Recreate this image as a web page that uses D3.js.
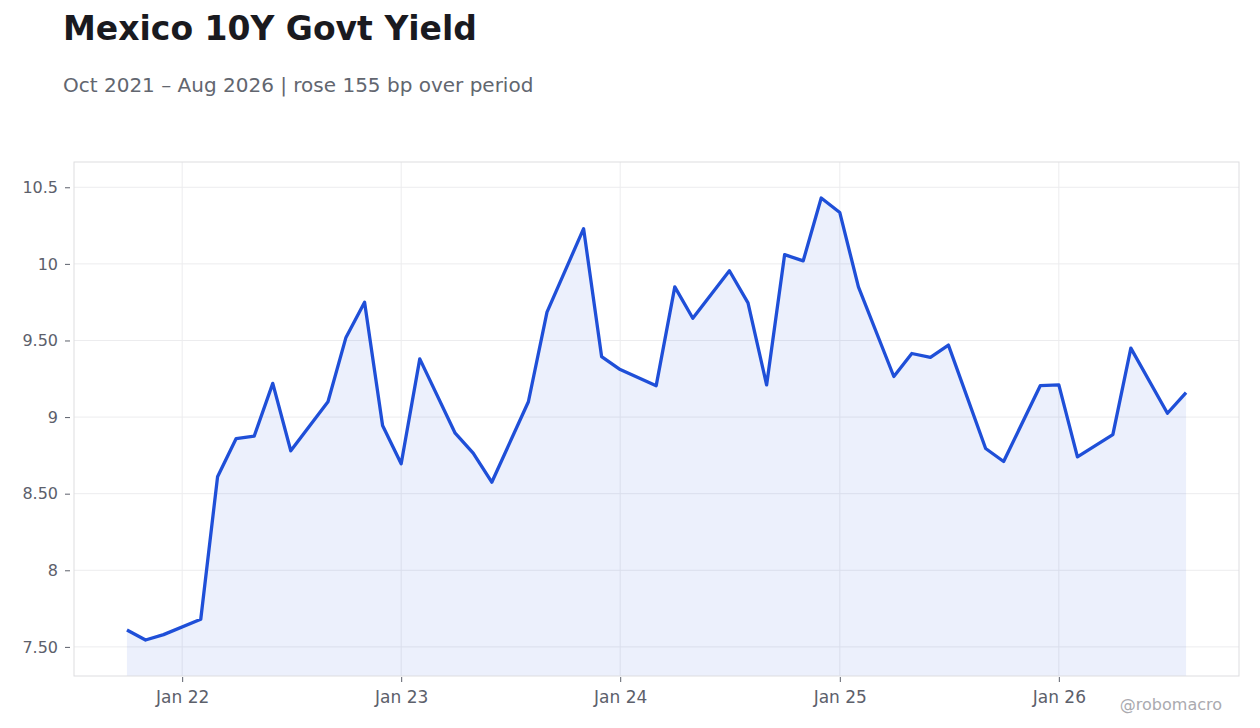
<!DOCTYPE html>
<html>
<head>
<meta charset="utf-8">
<script src="https://cdn.jsdelivr.net/npm/d3@7"></script>
<style>
  body { margin: 0; background: #fff; }
  svg { font-family: "DejaVu Sans", sans-serif; }
</style>
</head>
<body>
<div id="chart"></div>
<script>
// monthly observations (first of month), gaps where a month is missing
const dates = [
    "2021-10", "2021-11", "2021-12", "2022-02", "2022-03", "2022-04", "2022-05", "2022-06",
    "2022-07", "2022-09", "2022-10", "2022-11", "2022-12", "2023-01", "2023-02", "2023-04",
    "2023-05", "2023-06", "2023-08", "2023-09", "2023-11", "2023-12", "2024-01", "2024-03",
    "2024-04", "2024-05", "2024-07", "2024-08", "2024-09", "2024-10", "2024-11", "2024-12",
    "2025-01", "2025-02", "2025-04", "2025-05", "2025-06", "2025-07", "2025-09", "2025-10",
    "2025-12", "2026-01", "2026-02", "2026-04", "2026-05", "2026-07", "2026-08"
];
const yields = [
    7.61, 7.545, 7.58, 7.68, 8.61, 8.86, 8.875, 9.22,
    8.78, 9.10, 9.52, 9.75, 8.945, 8.695, 9.38, 8.895,
    8.765, 8.575, 9.10, 9.685, 10.23, 9.395, 9.31, 9.205,
    9.85, 9.645, 9.955, 9.745, 9.21, 10.06, 10.02, 10.43,
    10.335, 9.85, 9.265, 9.415, 9.39, 9.47, 8.795, 8.71,
    9.205, 9.21, 8.74, 8.885, 9.45, 9.025, 9.16
];
const yTicks = [7.5, 8, 8.5, 9, 9.5, 10, 10.5];
const yTickLabels = ["7.50", "8", "8.50", "9", "9.50", "10", "10.5"];
const xTickYears = [2022, 2023, 2024, 2025, 2026];

const width = 1260, height = 728;
const margin = {top: 162, right: 21, bottom: 52, left: 74};
const plotW = width - margin.left - margin.right;
const plotH = height - margin.top - margin.bottom;

const parse = d3.timeParse("%Y-%m");
const data = dates.map((d, i) => ({date: parse(d), value: yields[i]}));

let svg = d3.select("#chart")
    .append("svg")
    .attr("width", width)
    .attr("height", height);

// title + subtitle
svg.append("text")
    .attr("x", 63)
    .attr("y", 40)
    .style("font-size", "33px")
    .style("font-weight", "bold")
    .style("fill", "#1a1a1f")
    .text("Mexico 10Y Govt Yield");

svg.append("text")
    .attr("x", 63)
    .attr("y", 92)
    .style("font-size", "20px")
    .style("fill", "#62666f")
    .text("Oct 2021 \u2013 Aug 2026 | rose 155 bp over period");

let g = svg.append("g")
    .attr("transform", `translate(${margin.left}, ${margin.top})`);

// 5% padding either side of the date range
const ext = d3.extent(data, d => d.date);
const pad = (ext[1] - ext[0]) * 0.05;
let x = d3.scaleTime()
    .domain([new Date(+ext[0] - pad), new Date(+ext[1] + pad)])
    .range([0, plotW]);

let y = d3.scaleLinear()
    .domain([7.31, 10.665])
    .range([plotH, 0]);

const xTicks = xTickYears.map(yr => new Date(yr, 0, 1));

// grid
g.append("g")
    .selectAll("line.gy")
    .data(yTicks)
    .enter()
    .append("line")
    .attr("x1", 0)
    .attr("x2", plotW)
    .attr("y1", d => y(d))
    .attr("y2", d => y(d))
    .attr("stroke", "#ececee")
    .attr("stroke-width", 1);

g.append("g")
    .selectAll("line.gx")
    .data(xTicks)
    .enter()
    .append("line")
    .attr("x1", d => x(d))
    .attr("x2", d => x(d))
    .attr("y1", 0)
    .attr("y2", plotH)
    .attr("stroke", "#ececee")
    .attr("stroke-width", 1);

// area + line
let area = d3.area()
    .x(d => x(d.date))
    .y0(plotH)
    .y1(d => y(d.value));

let line = d3.line()
    .x(d => x(d.date))
    .y(d => y(d.value));

g.append("path")
    .datum(data)
    .attr("d", area)
    .attr("fill", "#1f4fd8")
    .attr("fill-opacity", 0.085);

g.append("path")
    .datum(data)
    .attr("d", line)
    .attr("fill", "none")
    .attr("stroke", "#1f4fd8")
    .attr("stroke-width", 3.3)
    .attr("stroke-linejoin", "round");

// frame
g.append("rect")
    .attr("x", 0)
    .attr("y", 0)
    .attr("width", plotW)
    .attr("height", plotH)
    .attr("fill", "none")
    .attr("stroke", "#dddde0")
    .attr("stroke-width", 1);

// axes
let yAxis = g.append("g")
    .attr("transform", "translate(-4, 0)")
    .call(d3.axisLeft(y)
        .tickValues(yTicks)
        .tickFormat((d, i) => yTickLabels[i])
        .tickSize(5)
        .tickPadding(7));

let xAxis = g.append("g")
    .attr("transform", `translate(0, ${plotH + 1})`)
    .call(d3.axisBottom(x)
        .tickValues(xTicks)
        .tickFormat(d3.timeFormat("Jan %y"))
        .tickSize(5)
        .tickPadding(9));

[yAxis, xAxis].forEach(a => {
    a.select(".domain").remove();
    a.selectAll(".tick line").attr("stroke", "#5c606b");
    a.selectAll(".tick text")
        .style("font-family", "DejaVu Sans, sans-serif")
        .style("font-size", "16px")
        .style("fill", "#5c606b");
});
xAxis.selectAll(".tick text").style("font-size", "17px");
yAxis.selectAll(".tick line").attr("x2", -5);

// watermark
svg.append("text")
    .attr("x", 1222)
    .attr("y", 710)
    .style("text-anchor", "end")
    .style("font-size", "16px")
    .style("fill", "#aaaaaf")
    .text("@robomacro");
</script>
</body>
</html>
